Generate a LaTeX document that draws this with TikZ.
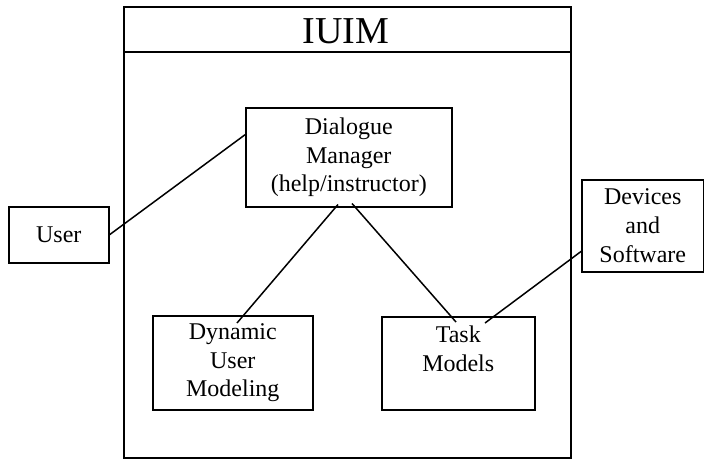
\documentclass[tikz,border=0pt]{standalone}
\usepackage{fontspec}
\setmainfont{Liberation Serif}
\begin{document}
\begin{tikzpicture}[x=1pt,y=-1pt,
  box/.style={draw,line width=1.5pt,inner sep=0pt,anchor=north west,align=center,
    font=\fontsize{24}{28.8}\selectfont},
  link/.style={line width=1.5pt}]
\useasboundingbox (0,0) rectangle (704,459);
% outer system box
\node[box,minimum width=447pt,minimum height=451pt] (iuim) at (123,6) {};
\draw[link] ([yshift=-46pt]iuim.north west) -- ([yshift=-46pt]iuim.north east);
\node[anchor=base,inner sep=0pt,font=\fontsize{38}{44}\selectfont] (title) at (346,43) {IUIM};
% inner boxes
\node[box,minimum width=206pt,minimum height=99pt] (dm) at (245,107) {Dialogue\\Manager\\(help/instructor)};
\node[box,minimum width=160pt,minimum height=94pt] (dum) at (152,315) {Dynamic\\User\\Modeling};
\node[box,minimum width=153pt,minimum height=93pt] (task) at (381,316) {Task\\Models\\\mbox{}};
\node[box,minimum width=100pt,minimum height=56pt] (user) at (8,206) {User};
\node[box,minimum width=122pt,minimum height=92pt] (dev) at (581,179) {Devices\\and\\Software};
% connectors
\draw[link] (user.east) -- ([yshift=22.5pt]dm.west);
\draw[link] ([xshift=93pt,yshift=3pt]dm.south west) -- ([xshift=85pt,yshift=-8pt]dum.north west);
\draw[link] ([xshift=107pt,yshift=4pt]dm.south west) -- ([xshift=75pt,yshift=-6pt]task.north west);
\draw[link] ([xshift=1pt,yshift=-25pt]dev.west) -- ([xshift=104pt,yshift=-7pt]task.north west);
\end{tikzpicture}
\end{document}
